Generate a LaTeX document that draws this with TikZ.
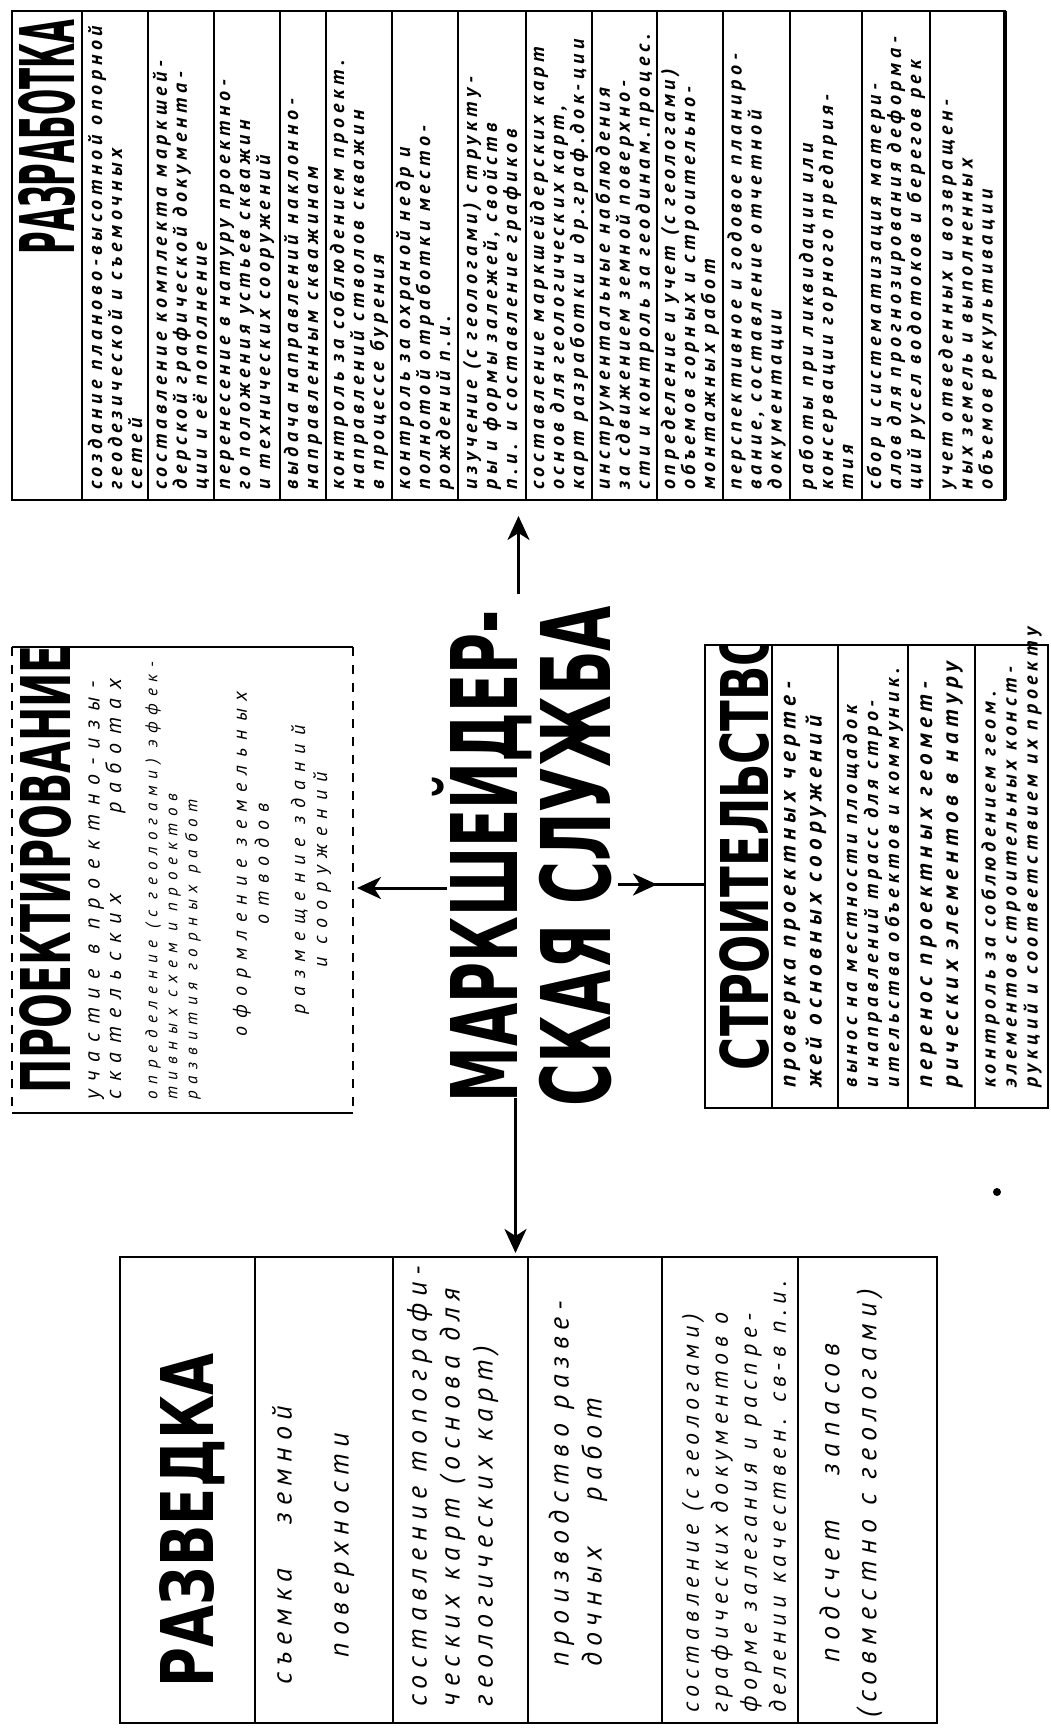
\documentclass[tikz,border=0pt]{standalone}
\usepackage{fontspec}
\usepackage{graphicx}
\usetikzlibrary{arrows.meta,calc}
\newfontfamily\hand{PT Sans}[LetterSpace=24]
\newfontfamily\handw{PT Sans}[LetterSpace=40]
\newfontfamily\hdr{DejaVu Sans}
\newcommand\fitcaps[3]{\resizebox{#1pt}{#2pt}{\hdr\bfseries\vphantom{Н}\smash{#3}}}
\tikzset{
  boxframe/.style={draw, line width=2.4pt, inner sep=0pt, outer sep=0pt},
  openframe/.style={inner sep=0pt, outer sep=0pt},
  divider/.style={line width=1.8pt},
  hd/.style={rotate=90, inner sep=0pt},
  itm/.style={rotate=90, anchor=west, align=left, inner sep=0pt},
  itc/.style={rotate=90, anchor=center, align=center, inner sep=0pt},
  arr/.style={line width=3pt, -{Stealth[length=24pt,width=22pt,inset=7pt]}},
  fa/.style={font=\hand\bfseries\itshape\fontsize{20}{20}\selectfont},
  fb/.style={font=\hand\bfseries\itshape\fontsize{23}{26}\selectfont},
  fbs/.style={font=\hand\bfseries\itshape\fontsize{20}{21}\selectfont},
  fc/.style={font=\hand\itshape\fontsize{28}{33}\selectfont},
  fcs/.style={font=\hand\itshape\fontsize{24}{29}\selectfont},
  fp/.style={font=\handw\itshape\fontsize{22}{20}\selectfont},
  fps/.style={font=\handw\itshape\fontsize{17}{20}\selectfont},
  fpm/.style={font=\handw\itshape\fontsize{20}{22}\selectfont},
}
\begin{document}
\begin{tikzpicture}[x=1pt,y=-1pt]
\fill[white] (0,0) rectangle (1050,1728);
\useasboundingbox (0,0) rectangle (1050,1728);

% ---------------- РАЗРАБОТКА ----------------
\node[boxframe, minimum width=993pt, minimum height=489pt] (razr) at (508.5,255.5) {};
\draw[line width=3.6pt] (razr.north east) -- (razr.south east);
\foreach \xx in {82,148,214,280,326,392,458,526,592,657,723,790,862,930}
  \draw[divider] (\xx,11) -- (\xx,500);
\node[hd] (razrh) at (47,137) {\fitcaps{235}{55}{РАЗРАБОТКА}};
\node[itm, fa] (r1) at (115,490) {создание планово-высотной опорной\\геодезической и съемочных\\сетей};
\node[itm, fa] (r2) at (181,490) {составление комплекта маркшей-\\дерской графической документа-\\ции и её пополнение};
\node[itm, fa] (r3) at (247,490) {перенесение в натуру проектно-\\го положения устьев скважин\\и технических сооружений};
\node[itm, fa] (r4) at (303,490) {выдача направлений наклонно-\\направленным скважинам};
\node[itm, fa] (r5) at (359,490) {контроль за соблюдением проект.\\направлений стволов скважин\\в процессе бурения};
\node[itm, fa] (r6) at (425,490) {контроль за охраной недр и\\полнотой отработки место-\\рождений п.и.};
\node[itm, fa] (r7) at (492,490) {изучение (с геологами) структу-\\ры и формы залежей, свойств\\п.и. и составление графиков};
\node[itm, fa] (r8) at (559,490) {составление маркшейдерских карт\\основ для геологических карт,\\карт разработки и др.граф.док-ции};
\node[itm, fa] (r9) at (624.5,490) {инструментальные наблюдения\\за сдвижением земной поверхно-\\сти и контроль за геодинам.процес.};
\node[itm, fa] (r10) at (690,490) {определение и учет (с геологами)\\объемов горных и строительно-\\монтажных работ};
\node[itm, fa] (r11) at (756.5,490) {перспективное и годовое планиро-\\вание, составление отчетной\\документации};
\node[itm, fa] (r12) at (826,490) {работы при ликвидации или\\консервации горного предприя-\\тия};
\node[itm, fa] (r13) at (896,490) {сбор и систематизация матери-\\алов для прогнозирования деформа-\\ций русел водотоков и берегов рек};
\node[itm, fa] (r14) at (967.5,490) {учет отведенных и возвращен-\\ных земель и выполненных\\объемов рекультивации};

% ---------------- ПРОЕКТИРОВАНИЕ ----------------
\node[openframe, minimum width=341pt, minimum height=466pt] (proj) at (182.5,880) {};
\draw[line width=2.4pt] (proj.north west) -- (proj.north east);
\draw[line width=2.4pt] (proj.south west) -- (proj.south east);
\draw[line width=2pt, dash pattern=on 9pt off 9pt] (proj.north west) -- (proj.south west);
\draw[line width=2pt, dash pattern=on 9pt off 9pt] (proj.north east) -- (proj.south east);
\begin{scope}
\clip (proj.north west) rectangle (proj.south east);
\node[hd] (projh) at (45,869) {\fitcaps{448}{50}{ПРОЕКТИРОВАНИЕ}};
\end{scope}
\node[itm, fp] (p1) at (107,1100) {участие в проектно-изы-\\скательских\hspace{80pt}работах};
\node[itm, fps] (p2) at (173,1100) {определение (с геологами) эффек-\\тивных схем и проектов\\развития горных работ};
\node[itc, fpm] (p3) at (251,864) {оформление земельных\\отводов};
\node[itc, fpm] (p4) at (311,870) {размещение зданий\\и сооружений};

% ---------------- СТРОИТЕЛЬСТВО ----------------
\node[boxframe, minimum width=343pt, minimum height=463pt] (stro) at (876.5,876.5) {};
\foreach \xx in {772,838,908,975}
  \draw[divider] (\xx,645) -- (\xx,1108);
\begin{scope}
\clip (stro.north west) rectangle (stro.south east);
\node[hd] (stroh) at (744,849) {\fitcaps{442}{48}{СТРОИТЕЛЬСТВО}};
\end{scope}
\node[itm, fb] (s1) at (805,1088) {проверка проектных черте-\\жей основных сооружений};
\node[itm, fbs] (s2) at (873,1088) {вынос на местности площадок\\и направлений трасс для стро-\\ительства объектов и коммуник.};
\node[itm, fb] (s3) at (941.5,1088) {перенос проектных геомет-\\рических элементов в натуру};
\node[itm, fbs] (s4) at (1011.5,1088) {контроль за соблюдением геом.\\элементов строительных конст-\\рукций и соответствием их проекту};

% ---------------- РАЗВЕДКА ----------------
\node[boxframe, minimum width=817pt, minimum height=466pt] (razv) at (528.5,1490) {};
\foreach \xx in {255,393,528,662,798}
  \draw[divider] (\xx,1257) -- (\xx,1723);
\node[hd] (razvh) at (187,1520) {\fitcaps{334}{53}{РАЗВЕДКА}};
\node[itc, font=\hand\itshape\fontsize{28}{57}\selectfont] (v1) at (313,1545) {съемка\hspace{45pt}земной\\поверхности};
\node[itm, fc] (v2) at (453,1707) {составление топографи-\\ческих карт (основа для\\геологических карт)};
\node[itm, fc] (v3) at (578,1667) {производство разве-\\дочных\hspace{45pt}работ};
\node[itm, fcs] (v4) at (734,1713) {составление (с геологами)\\графических документов о\\форме залегания и распре-\\делении качествен. св-в п.и.};
\node[itc, font=\hand\itshape\fontsize{28}{37}\selectfont] (v5) at (851,1503) {подсчет\hspace{45pt}запасов\\(совместно с геологами)};

% ---------------- центр ----------------
\node[hd, align=center] (title) at (530,856) {\fitcaps{492}{67}{МАРКШЕЙДЕР-}\\[22pt]\fitcaps{500}{70}{СКАЯ СЛУЖБА}};

\draw[arr] ($(title.east -| razr.south)+(10,-12)$) -- ($(razr.south)+(10,16)$);
\draw[arr] ($(title.north |- proj.east)+(-3,8)$) -- ($(proj.east)+(4,8)$);
\draw[line width=3pt] ($(title.south |- stro.west)+(8,8)$) -- ($(stro.west)+(0,8)$);
\draw[arr] ($(title.south |- stro.west)+(8,8)$) -- ($(stro.west)+(-48,8)$);
\draw[arr] ($(title.west -| razv.north)+(-13,-8)$) -- ($(razv.north)+(-13,-4)$);

\fill (997,1192) circle (4);
\end{tikzpicture}
\end{document}
